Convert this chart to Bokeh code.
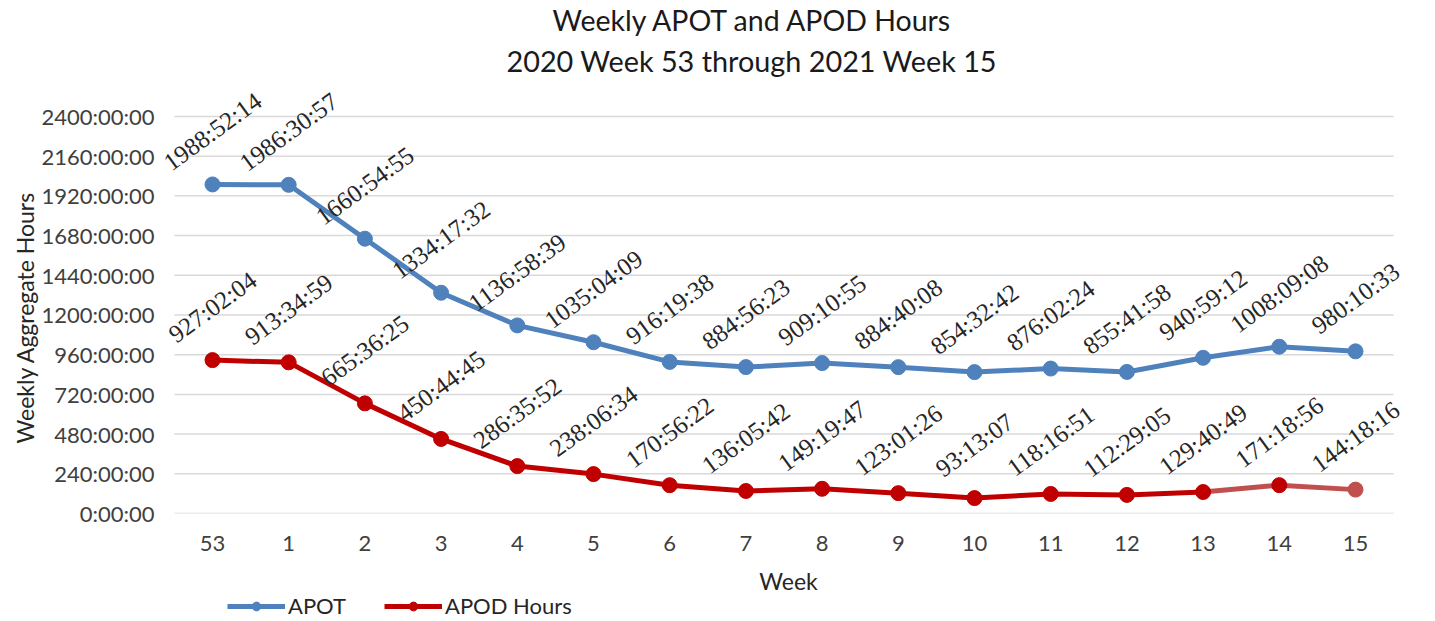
from bokeh.plotting import figure
from bokeh.layouts import column
from bokeh.models import (ColumnDataSource, Range1d, FixedTicker,
                          CustomJSTickFormatter, Legend, LegendItem, Title, LabelSet)
from bokeh.embed import file_html
from bokeh.resources import INLINE

weeks = ["53", "1", "2", "3", "4", "5", "6", "7", "8", "9", "10", "11", "12", "13", "14", "15"]
apot_labels = ["1988:52:14", "1986:30:57", "1660:54:55", "1334:17:32", "1136:58:39", "1035:04:09",
               "916:19:38", "884:56:23", "909:10:55", "884:40:08", "854:32:42", "876:02:24",
               "855:41:58", "940:59:12", "1008:09:08", "980:10:33"]
apod_labels = ["927:02:04", "913:34:59", "665:36:25", "450:44:45", "286:35:52", "238:06:34",
               "170:56:22", "136:05:42", "149:19:47", "123:01:26", "93:13:07", "118:16:51",
               "112:29:05", "129:40:49", "171:18:56", "144:18:16"]
y_ticks = [0, 240, 480, 720, 960, 1200, 1440, 1680, 1920, 2160, 2400]


def to_hours(s):
    h, m, sec = s.split(":")
    return int(h) + int(m) / 60 + int(sec) / 3600


apot = [to_hours(s) for s in apot_labels]
apod = [to_hours(s) for s in apod_labels]
xs = list(range(len(weeks)))

FONT = "Lato"
BLUE = "#4F81BD"
RED = "#C00000"
LIGHT_RED = "#C0504D"
TXT = "#262626"
FW = 1258

src = ColumnDataSource(dict(x=xs, apot=apot, apod=apod,
                            apot_lbl=apot_labels, apod_lbl=apod_labels))

p = figure(frame_width=FW, frame_height=431,
           x_range=Range1d(-0.6955, 15.8135), y_range=Range1d(0, 2605),
           output_backend="svg", toolbar_location=None,
           min_border_left=159, min_border_right=2, min_border_top=0, min_border_bottom=81)
p.outline_line_color = None
p.xgrid.grid_line_color = None
p.ygrid.grid_line_color = None

# horizontal gridlines spanning the category area only
p.segment(x0=[xs[0] - 0.5] * len(y_ticks), x1=[xs[-1] + 0.5] * len(y_ticks),
          y0=y_ticks, y1=y_ticks, line_color="#D9D9D9", line_width=1.5)

p.yaxis.ticker = FixedTicker(ticks=y_ticks)
p.yaxis.formatter = CustomJSTickFormatter(code="return tick + ':00:00';")
p.xaxis.ticker = FixedTicker(ticks=xs)
p.xaxis.major_label_overrides = {i: w for i, w in zip(xs, weeks)}
for ax in (p.xaxis[0], p.yaxis[0]):
    ax.axis_line_color = None
    ax.major_tick_line_color = None
    ax.minor_tick_line_color = None
    ax.major_tick_out = 0
    ax.major_tick_in = 0
    ax.minor_tick_out = 0
    ax.major_label_text_font = FONT
    ax.major_label_text_font_size = "22px"
    ax.major_label_text_color = "#404040"
    ax.axis_label_text_font = FONT
    ax.axis_label_text_font_size = "23px"
    ax.axis_label_text_font_style = "normal"
    ax.axis_label_text_color = TXT
p.yaxis.major_label_standoff = 5
p.xaxis.major_label_standoff = 22
p.xaxis.axis_label = "Week"
p.xaxis.axis_label_standoff = 13

p.add_layout(Title(text="Weekly Aggregate Hours", align="left", offset=70,
                   text_font=FONT, text_font_size="23px", text_font_style="normal",
                   text_color=TXT, standoff=0), "left")

p.line(x="x", y="apot", source=src, line_width=5, line_color=BLUE)
p.scatter(x="x", y="apot", source=src, size=15, fill_color=BLUE, line_color=BLUE)

n = len(weeks)
p.line(x=xs[:n - 2], y=apod[:n - 2], line_width=5, line_color=RED)
p.line(x=xs[n - 3:], y=apod[n - 3:], line_width=5, line_color=LIGHT_RED)
p.scatter(x=xs[:n - 1], y=apod[:n - 1], size=15, fill_color=RED, line_color=RED)
p.scatter(x=xs[n - 1:], y=apod[n - 1:], size=15, fill_color=LIGHT_RED, line_color=LIGHT_RED)

for col, ycol in (("apot_lbl", "apot"), ("apod_lbl", "apod")):
    labels = LabelSet(x="x", y=ycol, text=col, source=src, angle=36, angle_units="deg",
                      y_offset=53, text_align="center", text_baseline="middle",
                      text_font=FONT, text_font_size="25px", text_color=TXT)
    p.add_layout(labels)

p.add_layout(Title(text="2020 Week 53 through 2021 Week 15", align="left", offset=347,
                   text_font=FONT, text_font_size="28.8px", text_font_style="normal",
                   text_color="#1a1a1a", standoff=10), "above")
p.add_layout(Title(text="Weekly APOT and APOD Hours", align="left", offset=393,
                   text_font=FONT, text_font_size="28.5px", text_font_style="normal",
                   text_color="#1a1a1a", standoff=0), "above")

# legend strip below the chart (its series lie outside its visible range,
# so only the legend entries show)
q = figure(frame_width=FW, frame_height=22, x_range=Range1d(-2, -1), y_range=Range1d(0, 1),
           output_backend="svg", toolbar_location=None,
           x_axis_location=None, y_axis_location=None,
           min_border_left=159, min_border_right=2, min_border_top=0, min_border_bottom=0)
q.outline_line_color = None
q.grid.grid_line_color = None
lg1 = q.line(x="x", y="apot", source=src, line_width=5, line_color=BLUE)
sg1 = q.scatter(x="x", y="apot", source=src, size=15, fill_color=BLUE, line_color=BLUE)
lg2 = q.line(x="x", y="apod", source=src, line_width=5, line_color=RED)
sg2 = q.scatter(x="x", y="apod", source=src, size=15, fill_color=RED, line_color=RED)

legend = Legend(items=[LegendItem(label="APOT", renderers=[lg1, sg1]),
                       LegendItem(label="APOD Hours", renderers=[lg2, sg2])],
                orientation="horizontal", location=(68, 0),
                label_text_font=FONT, label_text_font_size="22px", label_text_color=TXT,
                glyph_width=58, glyph_height=22, label_height=22, label_standoff=3, spacing=38,
                padding=0, margin=0,
                border_line_color=None, background_fill_alpha=0)
q.add_layout(legend)

layout = column(p, q, spacing=0)
open("out.html", "w").write(file_html(layout, INLINE))
